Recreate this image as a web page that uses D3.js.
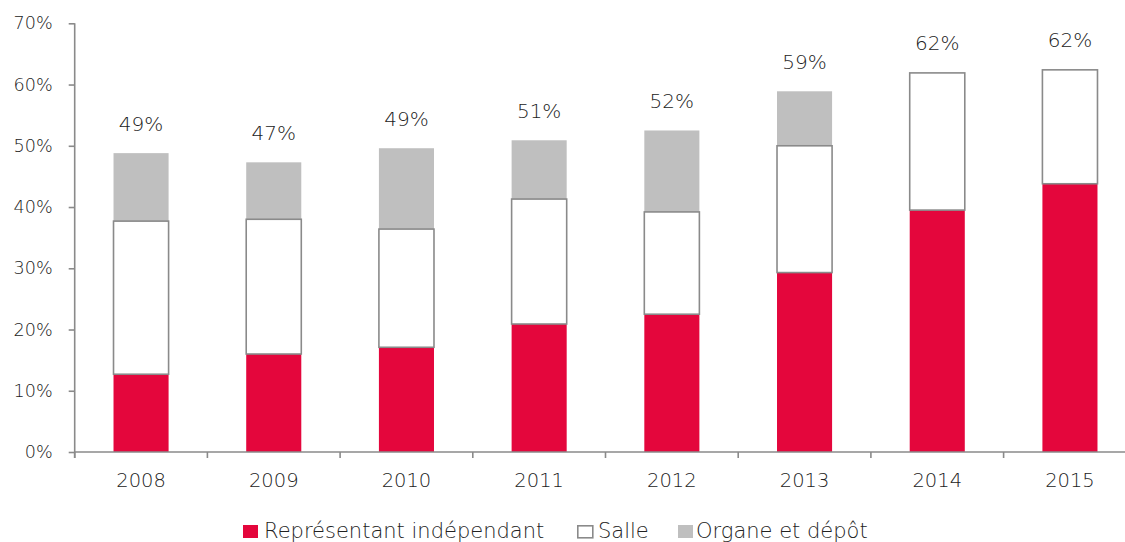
<!DOCTYPE html>
<html>
<head>
<meta charset="utf-8">
<script src="https://cdn.jsdelivr.net/npm/d3@7"></script>
<style>
    body { margin: 0; background: #fff; }
    svg text { font-family: "DejaVu Sans", sans-serif; font-weight: 200; fill: #222; }
</style>
</head>
<body>
<svg id="svg_main"></svg>
<script>
const years = ['2008', '2009', '2010', '2011', '2012', '2013', '2014', '2015'];
const representant = [12.7, 16.0, 17.1, 20.9, 22.5, 29.3, 39.5, 43.8];
const salle = [25.0, 22.0, 19.3, 20.4, 16.7, 20.7, 22.4, 18.6];
const organe = [11.1, 9.3, 13.2, 9.6, 13.3, 8.9, 0, 0];
const totalLabels = ['49%', '47%', '49%', '51%', '52%', '59%', '62%', '62%'];
const yTicks = [0, 10, 20, 30, 40, 50, 60, 70];
const seriesNames = ['Représentant indépendant', 'Salle', 'Organe et dépôt'];

const width = 1125, height = 542;
const mLeft = 74.7, mTop = 23.3, mBottom = 452;
const red = '#e4063c', grey = '#bfbfbf', axisGrey = '#8a8a8a';

const svg = d3.select('#svg_main')
    .attr('width', width)
    .attr('height', height);

const x = d3.scaleBand()
    .domain(years)
    .range([mLeft, mLeft + 8 * 132.7])
    .padding(0);
const barW = x.bandwidth() * 0.415;
const y = d3.scaleLinear()
    .domain([0, 70])
    .range([mBottom, mTop]);

// stack the three series
const rows = years.map((yr, i) => ({year: yr, rep: representant[i], salle: salle[i], org: organe[i]}));
const stacked = d3.stack().keys(['rep', 'salle', 'org'])(rows);
const fills = {rep: red, salle: '#fff', org: grey};

const barsG = svg.append('g');
// draw red and grey first, then the outlined white one on top
['rep', 'org', 'salle'].forEach(k => {
    const layer = stacked.find(s => s.key === k);
    barsG.append('g')
        .selectAll('rect')
        .data(layer.filter(d => d[1] - d[0] > 0))
        .join('rect')
        .attr('x', d => x(d.data.year) + (x.bandwidth() - barW) / 2)
        .attr('width', barW)
        .attr('y', d => y(d[1]))
        .attr('height', d => y(d[0]) - y(d[1]))
        .attr('fill', fills[k])
        .attr('stroke', k === 'salle' ? axisGrey : 'none')
        .attr('stroke-width', k === 'salle' ? 1.6 : 0);
});

// total labels
svg.append('g')
    .selectAll('text')
    .data(rows)
    .join('text')
    .attr('x', d => x(d.year) + x.bandwidth() / 2)
    .attr('y', d => y(d.rep + d.salle + d.org) - 22.5)
    .attr('text-anchor', 'middle')
    .style('font-size', '20px')
    .text((d, i) => totalLabels[i]);

// y axis
const yAxis = svg.append('g')
    .attr('transform', `translate(${mLeft},0)`)
    .call(d3.axisLeft(y).tickValues(yTicks).tickFormat(d => d + '%').tickSize(6).tickPadding(16));
yAxis.select('.domain').remove();
yAxis.selectAll('.tick line').attr('stroke', axisGrey).attr('stroke-width', 1.6);
yAxis.selectAll('.tick text').style('font-size', '17.6px').attr('fill', '#222');
yAxis.append('line')
    .attr('x1', 0).attr('x2', 0)
    .attr('y1', mTop).attr('y2', mBottom + 6)
    .attr('stroke', axisGrey).attr('stroke-width', 1.6);

// x axis
const xAxis = svg.append('g')
    .attr('transform', `translate(0,${mBottom})`)
    .call(d3.axisBottom(x).tickSize(0).tickPadding(21));
xAxis.select('.domain').remove();
xAxis.selectAll('.tick text').style('font-size', '19.5px').attr('fill', '#222');
xAxis.append('line')
    .attr('x1', mLeft).attr('x2', width)
    .attr('stroke', axisGrey).attr('stroke-width', 1.6);
xAxis.selectAll('line.sep')
    .data(years)
    .join('line')
    .attr('class', 'sep')
    .attr('x1', d => x(d)).attr('x2', d => x(d))
    .attr('y1', 0).attr('y2', 6)
    .attr('stroke', axisGrey).attr('stroke-width', 1.6);

// legend
const legendBoxX = [243, 577, 678];
const legendTextX = [264, 598, 696];
const legend = svg.append('g');
seriesNames.forEach((name, i) => {
    const key = ['rep', 'salle', 'org'][i];
    legend.append('rect')
        .attr('x', legendBoxX[i] + (key === 'salle' ? 0.8 : 0))
        .attr('y', 525 + (key === 'salle' ? 0.8 : 0))
        .attr('width', key === 'salle' ? 15 : 15)
        .attr('height', key === 'salle' ? 12 : 13)
        .attr('fill', fills[key])
        .attr('stroke', key === 'salle' ? axisGrey : 'none')
        .attr('stroke-width', 1.6);
    legend.append('text')
        .attr('x', legendTextX[i])
        .attr('y', 538)
        .style('font-size', '21px')
        .text(name);
});
</script>
</body>
</html>
